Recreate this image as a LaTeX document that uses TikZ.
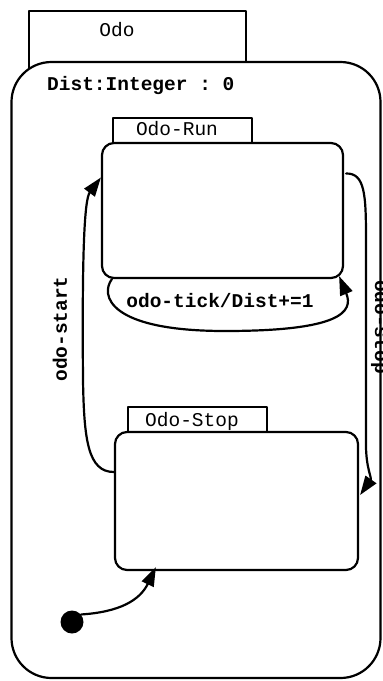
\documentclass[tikz,border=0pt]{standalone}
\usepackage{fontspec}
\setmonofont{Liberation Mono}
\usetikzlibrary{arrows.meta,calc}
\tikzset{
  x=1pt, y=-1pt,
  ln/.style={line width=2.2pt, line join=round, line cap=round},
  tabbox/.style={ln, draw, fill=white, rectangle, inner sep=0pt},
  statebox/.style={ln, draw, fill=white, rectangle, rounded corners=12pt, inner sep=0pt},
  bigbox/.style={ln, draw, fill=white, rectangle, rounded corners=40pt, inner sep=0pt},
  lbl/.style={inner sep=0pt, font=\fontsize{19.5}{19.5}\selectfont\ttfamily},
  blbl/.style={inner sep=0pt, font=\fontsize{19.5}{19.5}\selectfont\ttfamily\bfseries},
  trans/.style={ln, -{Triangle[length=19pt,width=13pt]}},
}
\begin{document}
\begin{tikzpicture}
\useasboundingbox (0,0) rectangle (383,681);
% outer state Odo
\node[tabbox, minimum width=217pt, minimum height=69pt] (odotab) at (137.5,45.5) {};
\node[lbl] (odolbl) at (117,30) {Odo};
\node[bigbox, minimum width=369pt, minimum height=616pt] (odo) at (196,370) {};
\node[blbl, anchor=base west] (dist) at (47,90) {Dist:Integer : 0};
% Odo-Run
\node[tabbox, minimum width=139pt, minimum height=32pt] (runtab) at (182.5,134) {};
\node[lbl, anchor=base] (runlbl) at (177,135) {Odo-Run};
\node[statebox, minimum width=241pt, minimum height=135pt] (run) at (222.5,210.5) {};
% Odo-Stop
\node[tabbox, minimum width=139pt, minimum height=32pt] (stoptab) at (197.5,423) {};
\node[lbl, anchor=base] (stoplbl) at (192,426) {Odo-Stop};
\node[statebox, minimum width=243pt, minimum height=138pt] (stop) at (236.5,501) {};
% initial
\node[circle, fill=black, minimum size=23pt, inner sep=0pt] (init) at (72,622) {};
% transitions
\draw[trans] ($(run.south west)+(11,0)$) .. controls (100,295) and (108,331) .. (225,331)
  .. controls (340,331) and (354,312) .. ($(run.south east)+(-5,-3)$);
\node[blbl, anchor=base] (ticklbl) at (220,307) {odo-tick/Dist+=1};
\draw[trans] ($(stop.west)+(0,-29)$) .. controls (88,472) and (84,440) .. (83,380)
  .. controls (82,260) and (84,200) .. ($(run.west)+(0,-33)$);
\node[blbl, rotate=90] (startlbl) at (60,329) {odo-start};
\draw[trans] ($(run.east)+(2,-37)$) .. controls (365,173) and (366,195) .. (366,240)
  -- (366,445) .. controls (366,468) and (372,478) .. ($(stop.east)+(1,-6)$);
\node[blbl, rotate=-90, anchor=base] (stoplbl2) at (375,327) {odo-stop};
\draw[trans] (init.40) .. controls (120,612) and (140,600) .. ($(stop.south west)+(42,-4)$);
\end{tikzpicture}
\end{document}
